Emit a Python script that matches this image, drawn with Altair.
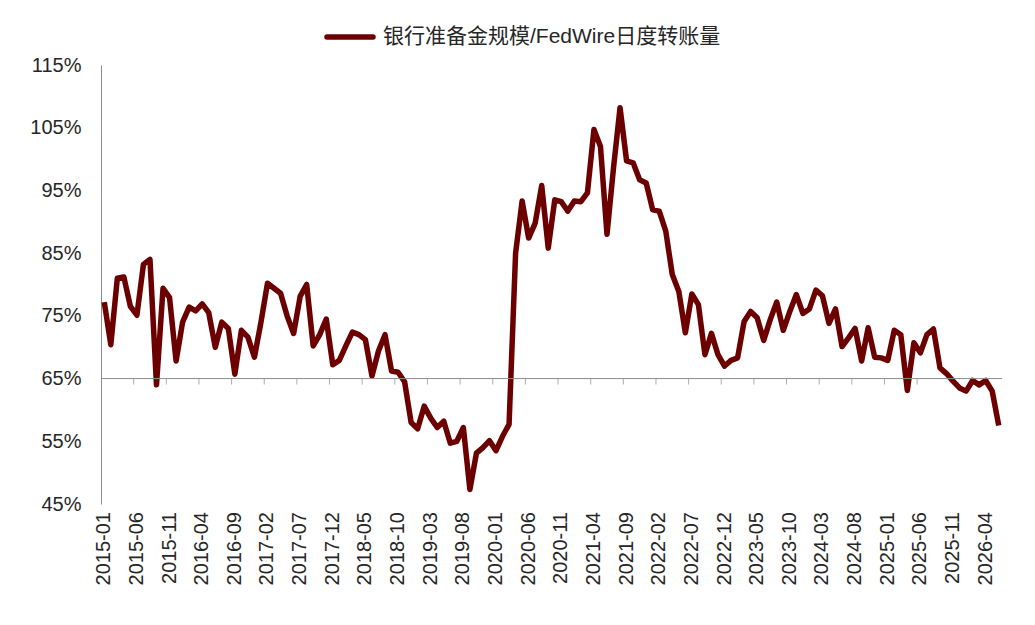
import altair as alt
import pandas as pd

series_name = "银行准备金规模/FedWire日度转账量"

# monthly values 2015-01 .. 2026-06 (percent)
ratio = [
    77.2, 70.4, 81.0, 81.2, 76.5, 75.1, 83.2, 84.0, 64.0, 79.4, 77.9, 67.8,   # 2015
    74.0, 76.4, 75.8, 76.9, 75.5, 70.0, 74.0, 73.0, 65.7, 72.7, 71.6, 68.4,   # 2016
    74.0, 80.2, 79.4, 78.6, 75.0, 72.2, 78.1, 80.0, 70.2, 72.0, 74.5, 67.2,   # 2017
    67.9, 70.2, 72.4, 72.0, 71.2, 65.4, 69.4, 72.0, 66.2, 66.0, 64.5, 58.0,   # 2018
    57.0, 60.6, 58.7, 57.2, 58.2, 54.7, 55.0, 57.2, 47.3, 53.1, 54.0, 55.1,   # 2019
    53.5, 55.8, 57.7, 85.0, 93.3, 87.4, 89.8, 95.8, 85.8, 93.5, 93.2, 91.7,   # 2020
    93.3, 93.2, 94.6, 104.7, 102.0, 88.0, 98.6, 108.2, 99.7, 99.4, 96.7, 96.2,  # 2021
    91.9, 91.7, 88.5, 81.6, 78.9, 72.3, 78.5, 76.8, 68.8, 72.2, 68.8, 67.0,   # 2022
    67.9, 68.3, 74.1, 75.7, 74.7, 71.1, 74.4, 77.2, 72.7, 75.7, 78.4, 75.4,   # 2023
    76.1, 79.1, 78.2, 73.8, 76.1, 70.1, 71.5, 73.0, 67.8, 73.1, 68.4, 68.3,   # 2024
    67.9, 72.7, 72.0, 63.1, 70.7, 69.1, 72.0, 72.9, 66.7, 65.8, 64.6, 63.5,   # 2025
    63.0, 64.7, 64.0, 64.7, 63.0, 57.5,                                       # 2026
]
months = [f"{2015 + k // 12}-{k % 12 + 1:02d}" for k in range(len(ratio))]
tick_labels = months[::5]
y_ticks = [45, 55, 65, 75, 85, 95, 105, 115]
baseline_value = 65

W, H = 901, 439
n = len(ratio)

df = pd.DataFrame({"idx": list(range(n)), "month": months, "ratio": ratio})
lab_df = pd.DataFrame({"idx": [months.index(m) for m in tick_labels], "label": tick_labels})
tick_df = pd.DataFrame({
    "pos": [months.index(m) - 0.5 for m in tick_labels[1:26]],
    "base": [baseline_value] * 25,
})
base_df = pd.DataFrame({"base": [baseline_value]})
legend_df = pd.DataFrame({"name": [series_name]})

xs = alt.Scale(domain=[-0.5, n - 0.5], nice=False, zero=False)
ys = alt.Scale(domain=[45, 115], nice=False, zero=False)

LINE_COLOR = "#6c0000"
TXT = "#262626"
GRAY = "#8c8c8c"

line = alt.Chart(df).mark_line(
    color=LINE_COLOR, strokeWidth=5.5, strokeJoin="round"
).encode(
    x=alt.X("idx:Q", scale=xs, axis=None),
    y=alt.Y("ratio:Q", scale=ys, axis=alt.Axis(
        values=y_ticks, labelExpr="datum.value + '%'", grid=False, ticks=False,
        domainColor=GRAY, domainWidth=1, labelFont="Liberation Sans",
        labelFontSize=20, labelColor=TXT, labelPadding=20, title=None)),
)

base_rule = alt.Chart(base_df).mark_rule(color=GRAY, strokeWidth=1).encode(
    x=alt.value(0), x2=alt.value(W), y=alt.Y("base:Q", scale=ys)
)

ticks = alt.Chart(tick_df).mark_tick(
    orient="vertical", size=6, thickness=1, yOffset=3, color=GRAY
).encode(x=alt.X("pos:Q", scale=xs), y=alt.Y("base:Q", scale=ys))

xlabels = alt.Chart(lab_df).mark_text(
    angle=270, align="right", baseline="middle", font="Liberation Sans",
    fontSize=20, color=TXT
).encode(x=alt.X("idx:Q", scale=xs), y=alt.value(H + 8), text="label:N")

legend_line = alt.Chart(legend_df).mark_rule(
    color=LINE_COLOR, strokeWidth=5.5, strokeCap="round"
).encode(x=alt.value(226), x2=alt.value(272), y=alt.value(-28))

legend_text = alt.Chart(legend_df).mark_text(
    align="left", baseline="middle", font="Liberation Sans, Noto Sans CJK SC",
    fontSize=21, color=TXT
).encode(x=alt.value(282), y=alt.value(-28), text="name:N")

chart = alt.layer(
    line, base_rule, ticks, xlabels, legend_line, legend_text
).properties(
    width=W, height=H,
    padding={"left": 93, "top": 57, "right": 17, "bottom": 105},
    autosize="none",
).configure_view(stroke=None)

chart.save("out.html", embed_options={"renderer": "svg", "actions": False})
